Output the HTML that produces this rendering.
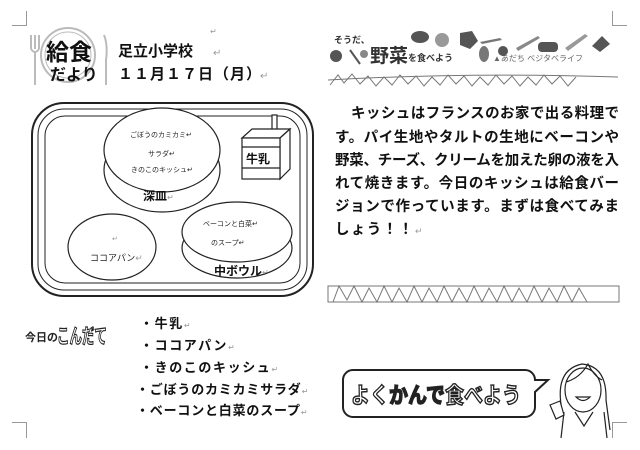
<!DOCTYPE html>
<html><head><meta charset="utf-8"><style>
html,body{margin:0;padding:0;background:#fff;}
svg{display:block;font-family:"Liberation Sans","Noto Sans CJK JP",sans-serif;}
.b{font-weight:bold;}
</style></head><body>
<svg width="640" height="450" viewBox="0 0 640 450" xmlns="http://www.w3.org/2000/svg">
<g stroke="#999" stroke-width="1" fill="none">
<path d="M12 25.5H26.5V11"/><path d="M612.5 11V25.5H627"/>
<path d="M12 422.5H26.5V438"/><path d="M612.5 438V422.5H627"/>
</g>
<g stroke="#bbb" fill="none" stroke-width="2">
<circle cx="68" cy="55" r="27"/><circle cx="68" cy="55" r="23" stroke-width="1"/>
<path d="M31 35v14M35 35v14M39 35v14M31 49q4 6 8 0M35 52v33"/>
<path d="M104 35q4 10 2 25v25"/>
</g>
<text x="46" y="60" font-size="23" class="b" fill="#111" textLength="46" lengthAdjust="spacingAndGlyphs">給食</text>
<text x="50" y="80" font-size="16" class="b" fill="#111">だより</text>
<text x="118" y="56" font-size="15" class="b" fill="#111">足立小学校</text>
<text x="210" y="34" font-size="8" fill="#999">↵</text>
<text x="213" y="56" font-size="10" fill="#999">↵</text>
<text x="118" y="79" font-size="15" class="b" fill="#111" letter-spacing="1">１１月１７日（月）</text>
<text x="260" y="79" font-size="10" fill="#999">↵</text>
<g fill="none" stroke="#222">
<rect x="32" y="103" width="281" height="193" rx="32" stroke-width="2"/>
<rect x="38" y="109" width="269" height="181" rx="26" stroke-width="1"/>
<rect x="45" y="116" width="255" height="167" rx="20" stroke-width="1"/>
</g>
<g fill="#fff" stroke="#222" stroke-width="1.2">
<ellipse cx="162" cy="170" rx="58" ry="42"/>
<ellipse cx="162" cy="150" rx="58" ry="42"/>
</g>
<text x="130" y="137" font-size="7" fill="#222">ごぼうのカミカミ↵</text>
<text x="148" y="156" font-size="7" fill="#222">サラダ↵</text>
<text x="131" y="172" font-size="7" fill="#222">きのこのキッシュ↵</text>
<text x="143" y="200" font-size="12" class="b" fill="#111">深皿<tspan font-size="8" font-weight="normal" fill="#999">↵</tspan></text>
<g fill="#fff" stroke="#222" stroke-width="1.2">
<rect x="272" y="115" width="5" height="18"/>
<path d="M242 138l10-9h38l-10 9z"/>
<path d="M280 138l10-9v40l-10 10z"/>
<rect x="242" y="138" width="38" height="41"/>
<path d="M242 147h38M242 168h38"/>
</g>
<text x="246" y="163" font-size="12" class="b" fill="#111">牛乳</text>
<ellipse cx="112" cy="247" rx="44" ry="33" fill="#fff" stroke="#222" stroke-width="1.2"/>
<text x="112" y="241" font-size="7" fill="#999">↵</text>
<text x="90" y="261" font-size="9" fill="#222">ココアパン<tspan fill="#999">↵</tspan></text>
<g fill="#fff" stroke="#222" stroke-width="1.2">
<ellipse cx="237" cy="248" rx="55" ry="30"/>
<ellipse cx="237" cy="232" rx="55" ry="30"/>
</g>
<text x="203" y="226" font-size="7" fill="#222">ベーコンと白菜↵</text>
<text x="211" y="245" font-size="7" fill="#222">のスープ↵</text>
<text x="214" y="275" font-size="12" class="b" fill="#111">中ボウル<tspan font-size="8" font-weight="normal" fill="#999">↵</tspan></text>
<!-- veg banner -->
<text x="334" y="43" font-size="9" class="b" fill="#333">そうだ、</text>
<text x="370" y="62" font-size="19" class="b" fill="#333">野菜</text>
<text x="408" y="61" font-size="9" class="b" fill="#333">を食べよう</text>
<text x="493" y="61" font-size="8" fill="#666">▲あだち ベジタベライフ</text>
<g fill="#555">
<circle cx="336" cy="56" r="6"/><circle cx="364" cy="54" r="4" fill="#888"/>
<ellipse cx="420" cy="37" rx="9" ry="6"/><circle cx="442" cy="40" r="7" fill="#999"/>
<path d="M460 33l12-2 6 10-8 8-10-4z"/><path d="M480 42l20-4 2 2-20 4z" fill="#777"/>
<ellipse cx="484" cy="54" rx="5" ry="8" fill="#777"/><circle cx="503" cy="51" r="5"/>
<path d="M516 48l22-12 2 2-22 13z" fill="#888"/><rect x="538" y="42" width="20" height="10" rx="4"/>
<path d="M565 48l20-14 3 2-20 15z" fill="#999"/><path d="M592 46l10-10 8 8-10 8z"/>
<path d="M350 50l10 14" stroke="#555" stroke-width="2"/>
</g>
<g fill="none" stroke="#777" stroke-width="1">
<path d="M328 80q140-8 290 -3"/>
<path d="M330 85l8-10 6 8 8-9 8 10 8-8 8 10 8-9 8 8 8-10 8 9 8-8 8 10 8-9 8 8 8-10 8 9 8-8 8 10 8-9 8 8 8-10 8 9 8-8 8 10 8-9 8 8 8-10 8 9 8-8 8 10 8-9"/>
<rect x="328" y="286" width="291" height="16"/>
<path d="M333 302l6-16 8 14 7-14 8 16 7-14 8 14 7-16 8 16 7-14 8 14 7-16 8 16 7-14 8 14 7-16 8 16 7-14 8 14 7-16 8 16 7-14 8 14 7-16 8 16 7-14 8 14 7-16 8 16 7-14 8 14 7-16 8 16 7-14 8 14"/>
</g>
<!-- paragraph -->
<g font-size="14.5" class="b" fill="#111" lengthAdjust="spacing">
<text x="351" y="118" textLength="268">キッシュはフランスのお家で出る料理で</text>
<text x="335" y="142" textLength="284">す。パイ生地やタルトの生地にベーコンや</text>
<text x="335" y="165" textLength="284">野菜、チーズ、クリームを加えた卵の液を入</text>
<text x="335" y="188" textLength="284">れて焼きます。今日のキッシュは給食バー</text>
<text x="335" y="211" textLength="284">ジョンで作っています。まずは食べてみま</text>
<text x="335" y="234" textLength="78">しょう！！</text>
</g>
<text x="415" y="234" font-size="9" fill="#999">↵</text>
<!-- menu -->
<text x="25" y="341" font-size="11" class="b" fill="#222">今日の</text>
<text x="57" y="343" font-size="20" class="b" fill="#fff" stroke="#222" stroke-width="1.2" textLength="50" lengthAdjust="spacingAndGlyphs">こんだて</text>
<g font-size="13" class="b" fill="#111">
<text x="140" y="328" letter-spacing="1.6">・牛乳<tspan font-size="8" font-weight="normal" fill="#999">↵</tspan></text>
<text x="140" y="350" letter-spacing="1.6">・ココアパン<tspan font-size="8" font-weight="normal" fill="#999">↵</tspan></text>
<text x="140" y="372" letter-spacing="1.6">・きのこのキッシュ<tspan font-size="8" font-weight="normal" fill="#999">↵</tspan></text>
<text x="136" y="394" letter-spacing="0.8">・ごぼうのカミカミサラダ<tspan font-size="8" font-weight="normal" fill="#999">↵</tspan></text>
<text x="136" y="415" letter-spacing="0.8">・ベーコンと白菜のスープ<tspan font-size="8" font-weight="normal" fill="#999">↵</tspan></text>
</g>
<!-- bubble -->
<path d="M353 370H525a10 10 0 0 1 10 10v0l13 0-13 12v15a10 10 0 0 1-10 10H353a10 10 0 0 1-10-10V380a10 10 0 0 1 10-10z" fill="#fff" stroke="#222" stroke-width="2"/>
<text x="351" y="403" font-size="22" class="b" fill="#fff" stroke="#222" stroke-width="1.4" textLength="170" lengthAdjust="spacingAndGlyphs">よく<tspan fill="#222">かんで</tspan>食べよう</text>
<!-- person -->
<g fill="none" stroke="#222" stroke-width="1.2">
<path d="M562 410q-8-40 20-46q25 2 24 36l4 30"/>
<ellipse cx="583" cy="390" rx="18" ry="22" fill="#fff"/>
<path d="M566 382q14-4 22-18q6 12 14 16"/>
<path d="M576 397q7 7 14 0z" fill="#fff"/>
<path d="M564 412l-3 26M604 412l3 26M575 412l9 14 9-14"/>
<path d="M550 405l10-4 4 14-8 4z" fill="#fff"/>
</g>
</svg>
</body></html>
